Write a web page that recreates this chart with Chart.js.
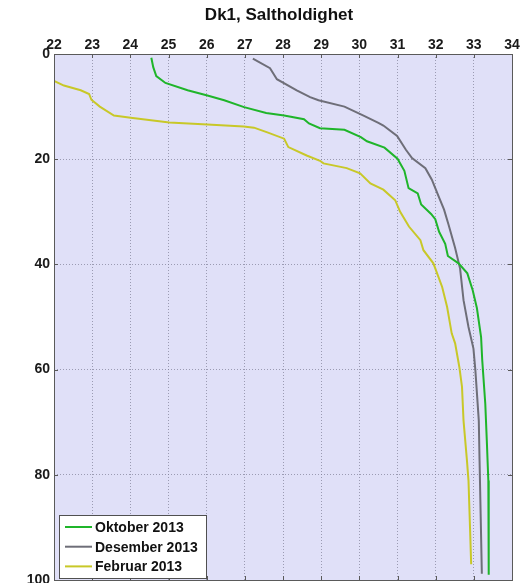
<!DOCTYPE html>
<html>
<head>
<meta charset="utf-8">
<script src="https://cdn.jsdelivr.net/npm/chart.js@4"></script>
<style>
  html, body { margin: 0; padding: 0; background: #ffffff; }
  #wrap { width: 530px; height: 583px; }
</style>
</head>
<body>
<div id="wrap"><canvas id="c" width="530" height="583"></canvas></div>
<script>
// Salinity profiles at station Dk1: depth (m) and salinity for each cruise
const octDepth = [0.7, 2.5, 4.2, 5.5, 6.9, 7.9, 8.8, 10.1, 11.2, 11.7, 12.4, 13.2, 14.1, 14.4, 15.8, 16.6, 17.8, 19.9, 22.2, 25.5, 26.5, 28.6, 30.4, 31.4, 33.8, 36.1, 38.4, 39.8, 41.7, 44.9, 48.3, 53.8, 58.2, 66.5, 73.5, 81.1, 90.0, 99.0];
const octSal   = [24.55, 24.60, 24.68, 24.92, 25.50, 26.02, 26.46, 26.98, 27.56, 28.03, 28.55, 28.68, 28.97, 29.61, 30.04, 30.20, 30.66, 31.00, 31.18, 31.29, 31.53, 31.62, 31.88, 31.99, 32.09, 32.25, 32.32, 32.60, 32.83, 32.97, 33.08, 33.19, 33.22, 33.30, 33.34, 33.38, 33.39, 33.39];

const desDepth = [0.9, 2.7, 4.8, 6.9, 8.2, 8.8, 10.0, 11.7, 13.1, 13.6, 15.6, 18.2, 19.8, 21.7, 23.9, 27.1, 29.6, 32.5, 36.9, 40.8, 46.8, 51.9, 56.0, 60.1, 69.7, 77.3, 88.0, 98.8];
const desSal   = [27.21, 27.66, 27.84, 28.36, 28.71, 28.93, 29.61, 30.11, 30.50, 30.63, 30.99, 31.22, 31.38, 31.73, 31.90, 32.08, 32.22, 32.34, 32.51, 32.64, 32.73, 32.86, 32.99, 33.04, 33.13, 33.15, 33.18, 33.21];

const febDepth = [5.1, 6.0, 6.9, 7.6, 8.7, 10.0, 11.7, 12.1, 13.0, 13.4, 13.8, 14.0, 14.9, 16.1, 17.7, 19.3, 20.3, 20.8, 21.7, 22.7, 24.6, 25.8, 27.8, 30.0, 32.8, 35.4, 37.3, 39.8, 44.3, 48.1, 53.1, 55.0, 59.5, 63.3, 69.7, 77.3, 81.1, 90.0, 97.0];
const febSal   = [22.00, 22.26, 22.70, 22.92, 22.98, 23.20, 23.57, 24.01, 25.02, 26.02, 26.97, 27.24, 27.59, 28.03, 28.14, 28.62, 28.97, 29.06, 29.67, 30.02, 30.29, 30.63, 30.94, 31.07, 31.30, 31.60, 31.68, 31.94, 32.17, 32.30, 32.42, 32.51, 32.62, 32.69, 32.73, 32.82, 32.86, 32.90, 32.93];

const seriesLabels = ['Oktober 2013', 'Desember 2013', 'Februar 2013'];
const seriesColors = ['#1fb52a', '#6e6e78', '#c8c828'];
const chartTitle = 'Dk1, Saltholdighet';

// axis ranges and tick steps
const salRange = [22, 34];
const salStep = 1;
const depthRange = [0, 100];
const depthStep = 20;

const toPoints = (depth, sal) => depth.map((d, i) => ({ x: sal[i], y: d }));

const FONT = '"Liberation Sans", Arial, sans-serif';

// plot background, frame, inward tick marks and the title above the axis labels
const frame = {
  id: 'frame',
  beforeDraw(chart) {
    const { ctx, chartArea: a } = chart;
    ctx.save();
    ctx.fillStyle = '#e0e0f8';
    ctx.fillRect(a.left, a.top, a.right - a.left, a.bottom - a.top);
    ctx.restore();
  },
  afterDraw(chart) {
    const { ctx, chartArea: a, scales } = chart;
    ctx.save();
    ctx.strokeStyle = '#5a5a5a';
    ctx.lineWidth = 1;
    ctx.beginPath();
    scales.x.ticks.forEach(t => {
      const px = Math.round(scales.x.getPixelForValue(t.value)) + 0.5;
      ctx.moveTo(px, a.top); ctx.lineTo(px, a.top + 4);
      ctx.moveTo(px, a.bottom); ctx.lineTo(px, a.bottom - 4);
    });
    scales.y.ticks.forEach(t => {
      const py = Math.round(scales.y.getPixelForValue(t.value)) + 0.5;
      ctx.moveTo(a.left, py); ctx.lineTo(a.left + 4, py);
      ctx.moveTo(a.right, py); ctx.lineTo(a.right - 4, py);
    });
    ctx.stroke();
    ctx.strokeRect(Math.round(a.left) + 0.5, Math.round(a.top) + 0.5,
                   Math.round(a.right - a.left), Math.round(a.bottom - a.top));

    ctx.fillStyle = '#111111';
    ctx.font = 'bold 17px ' + FONT;
    ctx.textAlign = 'center';
    ctx.textBaseline = 'middle';
    ctx.fillText(chartTitle, (a.left + a.right) / 2 - 4, 15);
    ctx.restore();
  }
};

// boxed legend in the lower left corner of the plot
const boxLegend = {
  id: 'boxLegend',
  afterDraw(chart) {
    const { ctx, chartArea: a } = chart;
    const left = a.left + 5, top = a.bottom - 65, w = 147, h = 63;
    ctx.save();
    ctx.fillStyle = '#ffffff';
    ctx.fillRect(left, top, w, h);
    ctx.strokeStyle = '#505050';
    ctx.lineWidth = 1;
    ctx.strokeRect(Math.round(left) + 0.5, Math.round(top) + 0.5, w, h);
    ctx.font = 'bold 14px ' + FONT;
    ctx.textBaseline = 'middle';
    ctx.textAlign = 'left';
    chart.data.datasets.forEach((ds, i) => {
      const y = top + 12 + i * 19.7;
      ctx.strokeStyle = ds.borderColor;
      ctx.lineWidth = 2;
      ctx.beginPath();
      ctx.moveTo(left + 6, y); ctx.lineTo(left + 33, y);
      ctx.stroke();
      ctx.fillStyle = '#111111';
      ctx.fillText(ds.label, left + 36, y + 1);
    });
    ctx.restore();
  }
};

const gridStyle = { color: 'rgba(125,125,150,0.7)', lineWidth: 1, drawTicks: false };
const tickFont = { family: FONT, size: 14, weight: 'bold' };

new Chart(document.getElementById('c'), {
  type: 'line',
  data: {
    datasets: [
      { label: seriesLabels[0], data: toPoints(octDepth, octSal), borderColor: seriesColors[0] },
      { label: seriesLabels[1], data: toPoints(desDepth, desSal), borderColor: seriesColors[1] },
      { label: seriesLabels[2], data: toPoints(febDepth, febSal), borderColor: seriesColors[2] }
    ].map(d => Object.assign(d, { borderWidth: 2, pointRadius: 0, tension: 0, fill: false }))
  },
  options: {
    responsive: false,
    animation: false,
    layout: { padding: { left: 0, right: 18, top: 27, bottom: 3 } },
    plugins: {
      legend: { display: false },
      tooltip: { enabled: false },
      title: { display: false }
    },
    scales: {
      x: {
        type: 'linear',
        position: 'top',
        min: salRange[0], max: salRange[1],
        ticks: { stepSize: salStep, autoSkip: false, maxRotation: 0, padding: 0, color: '#1a1a1a', font: tickFont },
        grid: gridStyle,
        border: { display: false, dash: [1, 2] },
        afterFit(s) { s.height = 27; s.paddingLeft = 0; s.paddingRight = 0; }
      },
      y: {
        type: 'linear',
        reverse: true,
        min: depthRange[0], max: depthRange[1],
        ticks: { stepSize: depthStep, padding: 4, color: '#1a1a1a', font: tickFont },
        grid: gridStyle,
        border: { display: false, dash: [1, 2] },
        afterFit(s) { s.width = 54; s.paddingTop = 0; s.paddingBottom = 0; }
      }
    }
  },
  plugins: [frame, boxLegend]
});
</script>
</body>
</html>
